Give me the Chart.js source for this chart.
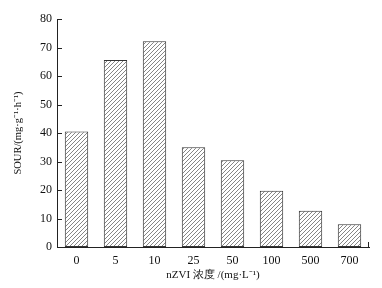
<!DOCTYPE html>
<html><head><meta charset="utf-8">
<script src="https://cdn.jsdelivr.net/npm/chart.js@4/dist/chart.umd.min.js"></script>
<style>html,body{margin:0;padding:0;background:#fff;}#wrap{width:382px;height:288px;}</style>
</head><body><div id="wrap"><canvas id="c" width="382" height="288"></canvas></div>
<script>
const categories = ['0', '5', '10', '25', '50', '100', '500', '700'];
const sourValues = [40.5, 65.6, 72.2, 35.0, 30.4, 19.7, 12.7, 8.0];
const yTickValues = [0, 10, 20, 30, 40, 50, 60, 70, 80];
const xTitle = 'nZVI 浓度 /(mg·L⁻¹)';
const yTitle = 'SOUR/(mg·g⁻¹·h⁻¹)';

function makeHatch() {
  const s = 4;
  const p = document.createElement('canvas');
  p.width = s; p.height = s;
  const g = p.getContext('2d');
  g.fillStyle = '#fff';
  g.fillRect(0, 0, s, s);
  g.strokeStyle = '#666';
  g.lineWidth = 0.8;
  g.beginPath();
  g.moveTo(0, s); g.lineTo(s, 0);
  g.moveTo(-1, 1); g.lineTo(1, -1);
  g.moveTo(s - 1, s + 1); g.lineTo(s + 1, s - 1);
  g.stroke();
  return document.getElementById('c').getContext('2d').createPattern(p, 'repeat');
}

const serif = "'Liberation Serif', 'Times New Roman', serif";
const inwardTicks = {
  id: 'inwardTicks',
  afterDraw(chart) {
    const ctx = chart.ctx;
    const y = chart.scales.y, x = chart.scales.x;
    ctx.save();
    ctx.strokeStyle = '#222';
    ctx.lineWidth = 1;
    ctx.beginPath();
    yTickValues.forEach(v => {
      const py = Math.round(y.getPixelForValue(v)) + 0.5;
      ctx.moveTo(x.left, py); ctx.lineTo(x.left + 5, py);
    });
    const rx = Math.round(x.right) - 0.5;
    ctx.moveTo(rx, y.bottom); ctx.lineTo(rx, y.bottom - 5);
    ctx.stroke();
    ctx.restore();
  }
};

new Chart(document.getElementById('c'), {
  type: 'bar',
  data: {
    labels: categories,
    datasets: [{
      data: sourValues,
      backgroundColor: makeHatch(),
      borderColor: '#333',
      borderWidth: 1,
      borderSkipped: false,
      barPercentage: 0.6,
      categoryPercentage: 1.0
    }]
  },
  options: {
    responsive: false,
    devicePixelRatio: 1,
    animation: false,
    layout: { padding: { left: 0, right: 13, top: 19, bottom: 0 } },
    plugins: { legend: { display: false }, tooltip: { enabled: false } },
    scales: {
      x: {
        grid: { display: false, drawTicks: false },
        border: { display: true, color: '#222', width: 1 },
        ticks: { color: '#111', font: { family: serif, size: 12 }, padding: 7 },
        title: { display: true, text: xTitle, color: '#111', font: { family: serif, size: 11 }, padding: { top: 0, bottom: 6 } },
        afterFit(s) { s.height = 41; }
      },
      y: {
        min: 0, max: 80,
        afterBuildTicks(s) { s.ticks = yTickValues.map(v => ({ value: v })); },
        grid: { display: false, drawTicks: false },
        border: { display: true, color: '#222', width: 1 },
        ticks: { color: '#111', font: { family: serif, size: 12 }, padding: 5 },
        title: { display: true, text: yTitle, color: '#111', font: { family: serif, size: 10.5 }, padding: { top: 12, bottom: 0 } },
        afterFit(s) { s.width = 57; }
      }
    }
  },
  plugins: [inwardTicks]
});
</script></body></html>
